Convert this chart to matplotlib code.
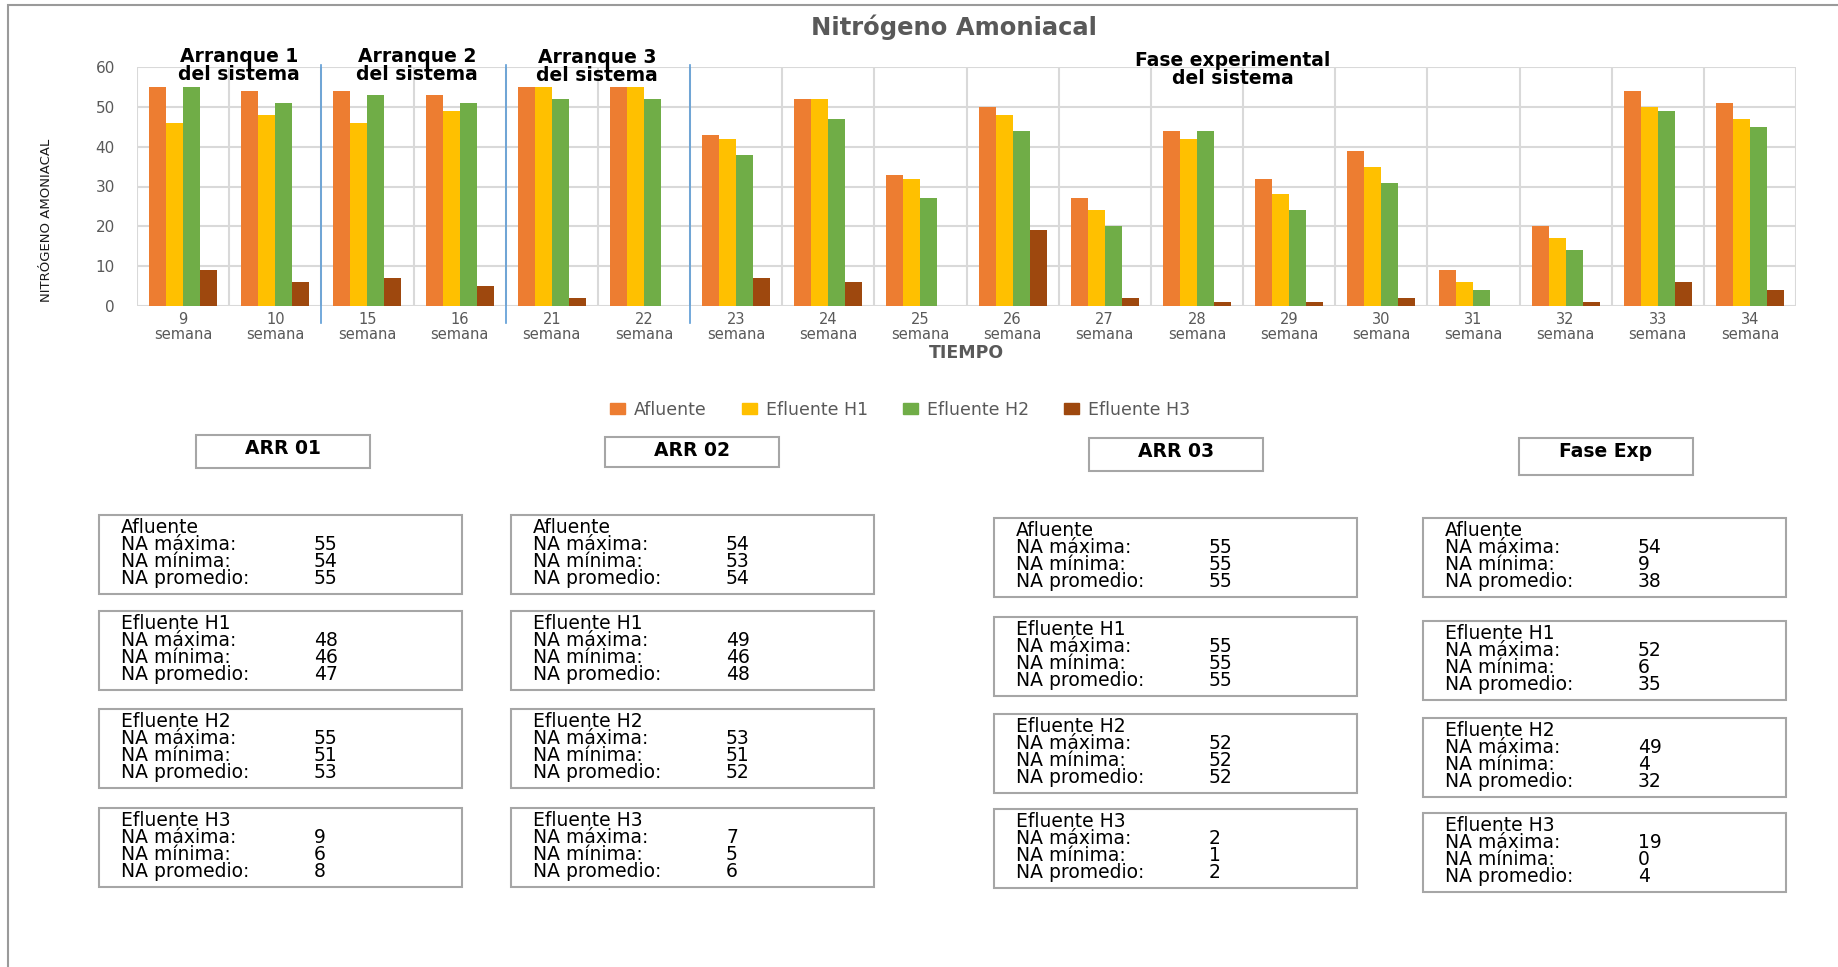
import matplotlib.pyplot as plt
from matplotlib.patches import Patch, Rectangle

W, H = 1838, 967

weeks = [9, 10, 15, 16, 21, 22, 23, 24, 25, 26, 27, 28, 29, 30, 31, 32, 33, 34]
afluente = [55, 54, 54, 53, 55, 55, 43, 52, 33, 50, 27, 44, 32, 39, 9, 20, 54, 51]
efluente_h1 = [46, 48, 46, 49, 55, 55, 42, 52, 32, 48, 24, 42, 28, 35, 6, 17, 50, 47]
efluente_h2 = [55, 51, 53, 51, 52, 52, 38, 47, 27, 44, 20, 44, 24, 31, 4, 14, 49, 45]
efluente_h3 = [9, 6, 7, 5, 2, 0, 7, 6, 0, 19, 2, 1, 1, 2, 0, 1, 6, 4]

series_names = ['Afluente', 'Efluente H1', 'Efluente H2', 'Efluente H3']
series_colors = ['#ED7D31', '#FFC000', '#70AD47', '#9E480E']

# phase separators sit between these category indexes
phase_breaks = [1.5, 3.5, 5.5]
phase_labels = ['Arranque 1\ndel sistema', 'Arranque 2\ndel sistema',
                'Arranque 3\ndel sistema', 'Fase experimental\ndel sistema']

# summary per phase: (max, min, mean) for each series
phase_names = ['ARR 01', 'ARR 02', 'ARR 03', 'Fase Exp']
stats_arr01 = [(55, 54, 55), (48, 46, 47), (55, 51, 53), (9, 6, 8)]
stats_arr02 = [(54, 53, 54), (49, 46, 48), (53, 51, 52), (7, 5, 6)]
stats_arr03 = [(55, 55, 55), (55, 55, 55), (52, 52, 52), (2, 1, 2)]
stats_fase = [(54, 9, 38), (52, 6, 35), (49, 4, 32), (19, 0, 4)]


def fx(px):
    return px / W


def fy(py):
    return 1 - py / H


fig = plt.figure(figsize=(W / 100, H / 100), dpi=100)
grey = '#595959'

# chart area frame
fig.add_artist(Rectangle((fx(8), fy(980)), 1.0, fy(5) - fy(980), transform=fig.transFigure,
                         fill=False, edgecolor='#9a9a9a', linewidth=1.5))

ax = fig.add_axes([fx(137), fy(306), fx(1796) - fx(137), fy(67) - fy(306)])
x = list(range(len(weeks)))
bw = 0.184
for k, (vals, name, col) in enumerate(zip([afluente, efluente_h1, efluente_h2, efluente_h3],
                                          series_names, series_colors)):
    ax.bar([i + (k - 1.5) * bw for i in x], vals, width=bw, color=col, label=name, zorder=3)

ax.set_xlim(-0.5, len(weeks) - 0.5)
ax.set_ylim(0, 60)
ax.set_yticks(range(0, 61, 10))
ax.set_xticks(x)
ax.set_xticklabels([f'{w}\nsemana' for w in weeks], color=grey, fontsize=10.5, linespacing=1.0)
ax.set_xticks([i - 0.5 for i in range(len(weeks) + 1)], minor=True)
ax.tick_params(axis='x', which='both', length=0, pad=4)
ax.tick_params(axis='y', length=0, pad=16, labelcolor=grey, labelsize=11)
ax.grid(axis='y', color='#D9D9D9', linewidth=1.5, zorder=0)
ax.grid(axis='x', which='minor', color='#D9D9D9', linewidth=1.5, zorder=0)
ax.grid(axis='x', which='major', visible=False)
for s in ax.spines.values():
    s.set_visible(False)

for b in phase_breaks:
    ax.plot([b, b], [-4.3, 60.4], color='#5B9BD5', linewidth=1.2, clip_on=False, zorder=4)

fig.text(fx(954), fy(35), 'Nitrógeno Amoniacal', ha='center', va='baseline',
         fontsize=17.5, fontweight='bold', color=grey)
fig.text(fx(966), fy(358), 'TIEMPO', ha='center', va='baseline',
         fontsize=12.5, fontweight='bold', color=grey)
fig.text(fx(47), fy(220), 'NITRÓGENO AMONIACAL', ha='center', va='center',
         rotation=90, fontsize=9.5, color='#1a1a1a')

# phase captions above the plot
caption_pos = [(239, 62), (417, 62), (597, 63), (1233, 66)]
for (cx, by), lab in zip(caption_pos, phase_labels):
    l1, l2 = lab.split('\n')
    fig.text(fx(cx), fy(by), l1, ha='center', va='baseline', fontsize=13.5, fontweight='bold')
    fig.text(fx(cx), fy(by + 18), l2, ha='center', va='baseline', fontsize=13.5, fontweight='bold')

handles = [Patch(color=c, label=n) for c, n in zip(series_colors, series_names)]
fig.legend(handles=handles, loc='center', bbox_to_anchor=(fx(900), fy(410)), ncol=4,
           frameon=False, fontsize=12.5, labelcolor=grey, handlelength=0.9,
           handleheight=0.6, handletextpad=0.5, columnspacing=2.0)

# summary boxes
header_boxes = [(196, 435, 174, 33), (605, 437, 174, 30), (1089, 438, 174, 33), (1519, 438, 174, 37)]
col_left = [99, 511, 994, 1423]
col_tops = [[515, 611, 709, 808], [515, 611, 709, 808],
            [518, 617, 714, 809], [518, 621, 718, 813]]
box_w, box_h = 363, 79
edge = '#a6a6a6'

for name, (hx, hy, hw, hh), left, tops, stats in zip(
        phase_names, header_boxes, col_left, col_tops,
        [stats_arr01, stats_arr02, stats_arr03, stats_fase]):
    fig.add_artist(Rectangle((fx(hx), fy(hy + hh)), hw / W, hh / H, transform=fig.transFigure,
                             fill=False, edgecolor=edge, linewidth=1.5))
    fig.text(fx(hx + hw / 2), fy(hy + 19), name, ha='center', va='baseline',
             fontsize=13.5, fontweight='bold')
    for top, sname, (vmax, vmin, vmean) in zip(tops, series_names, stats):
        fig.add_artist(Rectangle((fx(left), fy(top + box_h)), box_w / W, box_h / H,
                                 transform=fig.transFigure, fill=False,
                                 edgecolor=edge, linewidth=1.5))
        rows = [('NA máxima:', vmax), ('NA mínima:', vmin), ('NA promedio:', vmean)]
        fig.text(fx(left + 22), fy(top + 18), sname, ha='left', va='baseline', fontsize=13.5)
        for j, (lab, v) in enumerate(rows):
            base = top + 35 + 17 * j
            fig.text(fx(left + 22), fy(base), lab, ha='left', va='baseline', fontsize=13.5)
            fig.text(fx(left + 215), fy(base), str(v), ha='left', va='baseline', fontsize=13.5)

fig.savefig('out.png', dpi=100)
